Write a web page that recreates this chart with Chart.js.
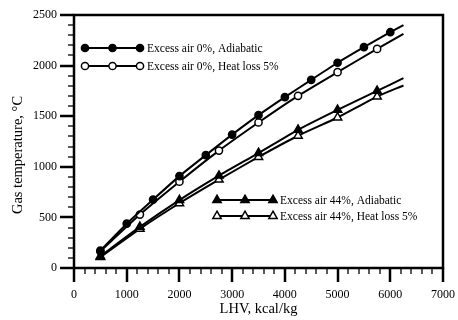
<!DOCTYPE html>
<html>
<head>
<meta charset="utf-8">
<script src="https://cdn.jsdelivr.net/npm/chart.js@4.4.1/dist/chart.umd.min.js"></script>
<style>
  html, body { margin: 0; padding: 0; background: #fff; }
  #wrap { width: 458px; height: 320px; }
</style>
</head>
<body>
<div id="wrap"><canvas id="chart"></canvas></div>
<script>
// LHV (kcal/kg) where the curves were computed
const lhvEvery500 = [500, 1000, 1500, 2000, 2500, 3000, 3500, 4000, 4500, 5000, 5500, 6000, 6250];
const lhvEvery750 = [500, 1250, 2000, 2750, 3500, 4250, 5000, 5750, 6250];

// gas temperature, °C
const air0Adiabatic = [172, 438, 676, 908, 1115, 1318, 1510, 1688, 1859, 2028, 2182, 2330, 2401];
const air0HeatLoss = [165, 528, 853, 1160, 1438, 1701, 1935, 2165, 2313];
const air44Adiabatic = [116, 406, 671, 912, 1136, 1366, 1563, 1750, 1876];
const air44HeatLoss = [108, 387, 640, 873, 1097, 1307, 1487, 1694, 1803];

const seriesNames = [
  "Excess air 0%, Adiabatic",
  "Excess air 0%, Heat loss 5%",
  "Excess air 44%, Adiabatic",
  "Excess air 44%, Heat loss 5%",
];

const xTicks = [0, 1000, 2000, 3000, 4000, 5000, 6000, 7000];
const yTicks = [0, 500, 1000, 1500, 2000, 2500];

const FONT = "'Liberation Serif', 'Times New Roman', serif";

function toPoints(xs, ys) {
  return xs.map((x, i) => ({ x: x, y: ys[i] }));
}
// markers everywhere except the last (line end) point
function markerRadius(xs, r) {
  return xs.map((x, i) => (i === xs.length - 1 ? 0 : r));
}

const styles = [
  { shape: "circle", fill: "#000", r: 3.6 },
  { shape: "circle", fill: "#fff", r: 3.6 },
  { shape: "triangle", fill: "#000", r: 4.8 },
  { shape: "triangle", fill: "#fff", r: 4.8 },
];

function drawMarker(ctx, s, x, y) {
  ctx.beginPath();
  if (s.shape === "circle") {
    ctx.arc(x, y, s.r, 0, Math.PI * 2);
  } else {
    for (let k = 0; k < 3; k++) {
      const a = k * (2 * Math.PI / 3);
      const px = x + Math.sin(a) * s.r, py = y - Math.cos(a) * s.r;
      if (k === 0) ctx.moveTo(px, py); else ctx.lineTo(px, py);
    }
    ctx.closePath();
  }
  ctx.fillStyle = s.fill;
  ctx.fill();
  ctx.lineWidth = 1.5;
  ctx.strokeStyle = "#000";
  ctx.stroke();
}

const framePlugin = {
  id: "frame",
  afterDraw(chart) {
    const { ctx, chartArea: a, scales } = chart;
    const x = scales.x, y = scales.y;
    ctx.save();
    ctx.strokeStyle = "#000";
    ctx.lineCap = "butt";

    // tick marks (major + minor), outside the frame
    for (let v = 0; v <= 7000; v += 200) {
      const major = v % 1000 === 0;
      const px = Math.round(x.getPixelForValue(v));
      ctx.lineWidth = major ? 2.5 : 1.3;
      ctx.beginPath();
      ctx.moveTo(px, a.bottom);
      ctx.lineTo(px, a.bottom + (major ? 14 : 6));
      ctx.stroke();
    }
    for (let v = 0; v <= 2500; v += 100) {
      const major = v % 500 === 0;
      const py = Math.round(y.getPixelForValue(v));
      ctx.lineWidth = major ? 2.5 : 1.3;
      ctx.beginPath();
      ctx.moveTo(a.left, py);
      ctx.lineTo(a.left - (major ? 14 : 6), py);
      ctx.stroke();
    }

    ctx.lineWidth = 2.5;
    ctx.strokeRect(a.left, a.top, a.right - a.left, a.bottom - a.top);

    // y axis title
    ctx.save();
    ctx.translate(18, 155);
    ctx.rotate(-Math.PI / 2);
    ctx.fillStyle = "#000";
    ctx.font = "14.5px " + FONT;
    ctx.textAlign = "center";
    ctx.textBaseline = "middle";
    ctx.fillText("Gas temperature, \u00B0C", 0, 0);
    ctx.restore();

    // two legend groups inside the plot
    const groups = [
      { x0: a.left + 11, x1: a.left + 66, rows: [[0, a.top + 33], [1, a.top + 51]] },
      { x0: a.left + 143, x1: a.left + 199, rows: [[2, a.top + 185], [3, a.top + 201]] },
    ];
    ctx.font = "11.5px " + FONT;
    ctx.textBaseline = "middle";
    ctx.textAlign = "left";
    groups.forEach((g) => {
      g.rows.forEach(([i, ly]) => {
        ctx.lineWidth = 2;
        ctx.strokeStyle = "#000";
        ctx.beginPath();
        ctx.moveTo(g.x0, ly);
        ctx.lineTo(g.x1, ly);
        ctx.stroke();
        [g.x0, (g.x0 + g.x1) / 2, g.x1].forEach((mx) => drawMarker(ctx, styles[i], mx, ly));
        ctx.fillStyle = "#000";
        ctx.fillText(seriesNames[i], g.x1 + 7, ly + 0.5);
      });
    });
    ctx.restore();
  },
};

function makeDataset(i, xs, ys) {
  const s = styles[i];
  return {
    label: seriesNames[i],
    data: toPoints(xs, ys),
    borderColor: "#000",
    borderWidth: 2,
    tension: 0.2,
    pointStyle: s.shape,
    pointRadius: markerRadius(xs, s.r),
    pointBackgroundColor: s.fill,
    pointBorderColor: "#000",
    pointBorderWidth: 1.5,
  };
}

new Chart(document.getElementById("chart"), {
  type: "line",
  data: {
    datasets: [
      makeDataset(0, lhvEvery500, air0Adiabatic),
      makeDataset(1, lhvEvery750, air0HeatLoss),
      makeDataset(2, lhvEvery750, air44Adiabatic),
      makeDataset(3, lhvEvery750, air44HeatLoss),
    ],
  },
  options: {
    responsive: true,
    maintainAspectRatio: false,
    animation: false,
    layout: { padding: 0 },
    plugins: {
      legend: { display: false },
      tooltip: { enabled: false },
    },
    scales: {
      x: {
        type: "linear",
        min: 0,
        max: 7000,
        afterFit(scale) {
          scale.height = 52;
          scale.paddingLeft = 0;
          scale.paddingRight = 15;
        },
        afterBuildTicks(scale) { scale.ticks = xTicks.map((v) => ({ value: v })); },
        grid: { display: false, drawTicks: false },
        border: { display: false },
        ticks: { color: "#000", font: { family: FONT, size: 12 }, padding: 20, maxRotation: 0, callback: (v) => String(v) },
        title: { display: true, text: "LHV, kcal/kg", color: "#000", font: { family: FONT, size: 14.5 }, padding: { top: 0, bottom: 2 } },
      },
      y: {
        min: 0,
        max: 2500,
        afterFit(scale) {
          scale.width = 74;
          scale.paddingTop = 15;
          scale.paddingBottom = 0;
        },
        afterBuildTicks(scale) { scale.ticks = yTicks.map((v) => ({ value: v })); },
        grid: { display: false, drawTicks: false },
        border: { display: false },
        ticks: { color: "#000", font: { family: FONT, size: 12 }, padding: 17, callback: (v) => String(v) },
      },
    },
  },
  plugins: [framePlugin],
});
</script>
</body>
</html>
